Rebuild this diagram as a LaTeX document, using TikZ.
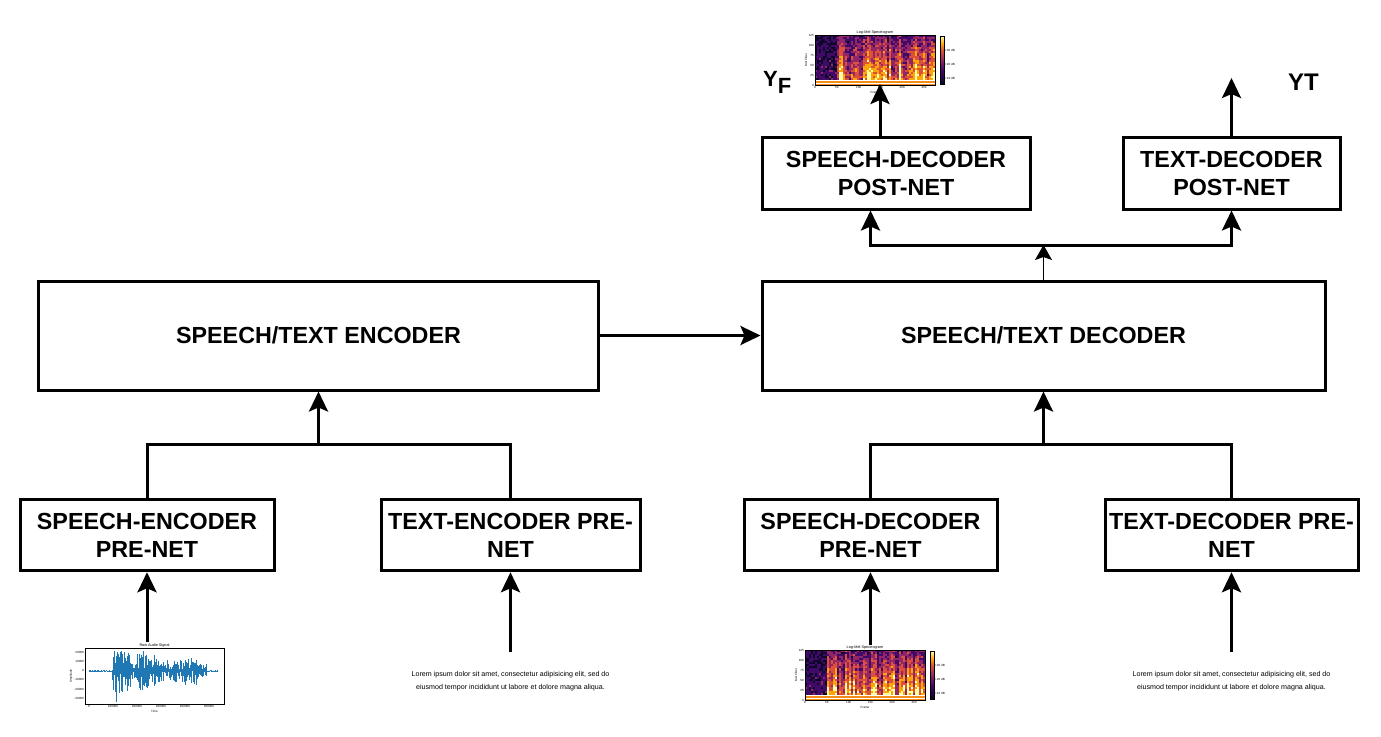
\documentclass[tikz,border=0pt]{standalone}
\usepackage{fontspec}
\setmainfont{Liberation Sans}
\usetikzlibrary{arrows.meta}
\definecolor{inf0}{HTML}{0D0829}
\definecolor{inf1}{HTML}{420A68}
\definecolor{inf2}{HTML}{932667}
\definecolor{inf3}{HTML}{DD513A}
\definecolor{inf4}{HTML}{FCA50A}
\definecolor{inf5}{HTML}{FCFFA4}
\definecolor{wave}{HTML}{1F77B4}
\pgfdeclareverticalshading{infbar}{100bp}{color(0bp)=(inf0); color(25bp)=(inf0);
  color(40bp)=(inf1); color(50bp)=(inf2); color(60bp)=(inf3); color(67bp)=(inf4);
  color(75bp)=(inf5); color(100bp)=(inf5)}

\begin{document}
\begin{tikzpicture}[x=1pt, y=-1pt,
  box/.style={draw, line width=3pt, align=center, inner sep=0pt,
    font=\fontsize{23.3}{28}\selectfont\bfseries},
  arr/.style={-{Stealth[length=20pt, width=19pt, inset=4pt]}, line width=3pt},
  thinarr/.style={-{Stealth[length=15pt, width=17pt, inset=3pt]}, line width=1.3pt},
  conn/.style={line width=3pt},
  ticklab/.style={font=\fontsize{3}{3.5}\selectfont, inner sep=0.5pt},
  plottitle/.style={font=\fontsize{3.8}{4}\selectfont, inner sep=0.5pt, anchor=south},
  lorem/.style={align=center, font=\fontsize{7.1}{13}\selectfont},
  melspec/.pic={
    \foreach \c in {0,...,59}{
      \pgfmathsetmacro\camp{\c<11 ? 0.1 : 0.3+0.7*rnd}
      \foreach \r in {0,...,21}{
        \pgfmathtruncatemacro\ci{min(5,max(0,floor(\camp*(0.3+0.7*\r/21)*5.3+1.7*rnd)))}
        \fill[inf\ci] (2*\c,2.05*\r) rectangle ++(2.1,2.15);
      }
    }
    \fill[inf4!70!inf3] (0,45) rectangle (120,50);
    \draw[white, line width=0.8pt] (0,45.5) -- (120,45.5) (0,48) -- (120,48);
    \draw[line width=0.3pt] (0,0) rectangle (120,50);
    \foreach \v [count=\i from 0] in {125,100,75,50,25,0}
      \node[ticklab, anchor=east] at (-0.5,10*\i) {\v};
    \foreach \v [count=\i from 0] in {0,50,100,150,200,250}
      \node[ticklab, anchor=north] at (21.8*\i,50.5) {\v};
    \node[ticklab, rotate=90] at (-9,25) {Mel Filter};
    \node[ticklab] at (60,57) {Frame};
    \node[plottitle] at (60,-0.5) {Log-Mel Spectrogram};
    \shade[shading=infbar] (125,1) rectangle (129,49);
    \draw[line width=0.2pt] (125,1) rectangle (129,49);
    \foreach \v/\y in {+30/15,+20/29,+10/43}
      \node[ticklab, anchor=west] at (129.5,\y) {\v\ dB};
  },
  rawwave/.pic={
    \foreach \x in {4,4.6,...,133}{
      \pgfmathsetmacro\env{\x<27 ? 0.04 : (\x<45 ? 1 : (\x<52 ? 0.4 : (\x<70 ? 0.9 :
        (\x<85 ? 0.6 : (\x<100 ? 0.55 : (\x<112 ? 0.65 : (\x<122 ? 0.35 : 0.04)))))))}
      \draw[wave, line width=0.6pt] (\x,{23-20*\env*rnd}) -- (\x,{23+22*\env*rnd});
    }
    \draw[wave, line width=0.6pt] (31,23) -- (31,54) (29,23) -- (29,3) (58,23) -- (58,3);
    \draw[line width=0.3pt] (0,0) rectangle (139,56);
    \foreach \v [count=\i from 0] in {20000,10000,0,-10000,-20000,-30000}
      \node[ticklab, anchor=east] at (-0.5,4+9.3*\i) {\v};
    \foreach \v [count=\i from 0] in {0,100000,200000,300000,400000,500000}
      \node[ticklab, anchor=north] at (4+24*\i,56.5) {\v};
    \node[ticklab, rotate=90] at (-14,28) {Amplitude};
    \node[ticklab] at (69.5,63) {Time};
    \node[plottitle] at (69.5,-0.5) {Raw Audio Signal};
  }
]
  \useasboundingbox (0,0) rectangle (1381,736);
  \pgfmathsetseed{7}

  % encoder side
  \node[box, minimum width=560pt, minimum height=109pt] (enc) at (318.5,335.5) {SPEECH/TEXT ENCODER};
  \node[box, minimum width=254pt, minimum height=71.5pt] (sepre) at (147,535) {SPEECH-ENCODER\\PRE-NET};
  \node[box, minimum width=259pt, minimum height=71.5pt] (tepre) at (510.5,535) {TEXT-ENCODER PRE-\\NET};

  % decoder side
  \node[box, minimum width=563pt, minimum height=109pt] (dec) at (1043.5,335.5) {SPEECH/TEXT DECODER};
  \node[box, minimum width=253pt, minimum height=71.5pt] (sdpre) at (870.5,535) {SPEECH-DECODER\\PRE-NET};
  \node[box, minimum width=253pt, minimum height=71.5pt] (tdpre) at (1231.5,535) {TEXT-DECODER PRE-\\NET};
  \node[box, minimum width=268pt, minimum height=72pt] (sdpost) at (896,173) {SPEECH-DECODER\\POST-NET};
  \node[box, minimum width=217pt, minimum height=72pt] (tdpost) at (1231.5,173) {TEXT-DECODER\\POST-NET};

  % inputs and outputs
  \pic at (85,648) {rawwave};
  \pic at (805,650) {melspec};
  \pic at (815,35) {melspec};
  \node[lorem] (telorem) at (510.5,681) {Lorem ipsum dolor sit amet, consectetur adipisicing elit, sed do\\eiusmod tempor incididunt ut labore et dolore magna aliqua.};
  \node[lorem] (tdlorem) at (1231.5,681) {Lorem ipsum dolor sit amet, consectetur adipisicing elit, sed do\\eiusmod tempor incididunt ut labore et dolore magna aliqua.};
  \node[anchor=base west, inner sep=0pt, font=\fontsize{22}{22}\selectfont\bfseries] (yf) at (763,86) {Y\raisebox{-7pt}{F}};
  \node[anchor=base west, inner sep=0pt, font=\fontsize{24}{24}\selectfont\bfseries] (yt) at (1288,90) {YT};

  \coordinate (encj) at (318.5,444);
  \coordinate (decj) at (1043.5,444);
  \coordinate (postj) at (1043.5,245);
  \coordinate (wavin) at (147,642);
  \coordinate (tein) at (510.5,652);
  \coordinate (sdin) at (870.5,645);
  \coordinate (tdin) at (1231.5,652);
  \coordinate (yfout) at (880,84);
  \coordinate (ytout) at (1231.5,78);

  \draw[conn] (sepre.north) |- (encj) -| (tepre.north);
  \draw[arr] (encj) -- (enc.south);
  \draw[conn] (sdpre.north) |- (decj) -| (tdpre.north);
  \draw[arr] (decj) -- (dec.south);
  \draw[arr] (enc) -- (dec);
  \draw[thinarr] (dec.north) -- (postj);
  \draw[arr] (postj) -| ([xshift=-25.5pt]sdpost.south);
  \draw[arr] (postj) -| (tdpost.south);
  \draw[arr] ([xshift=-16pt]sdpost.north) -- (yfout);
  \draw[arr] (tdpost.north) -- (ytout);

  \draw[arr] (wavin) -- (sepre.south);
  \draw[arr] (tein) -- (tepre.south);
  \draw[arr] (sdin) -- (sdpre.south);
  \draw[arr] (tdin) -- (tdpre.south);
\end{tikzpicture}
\end{document}
